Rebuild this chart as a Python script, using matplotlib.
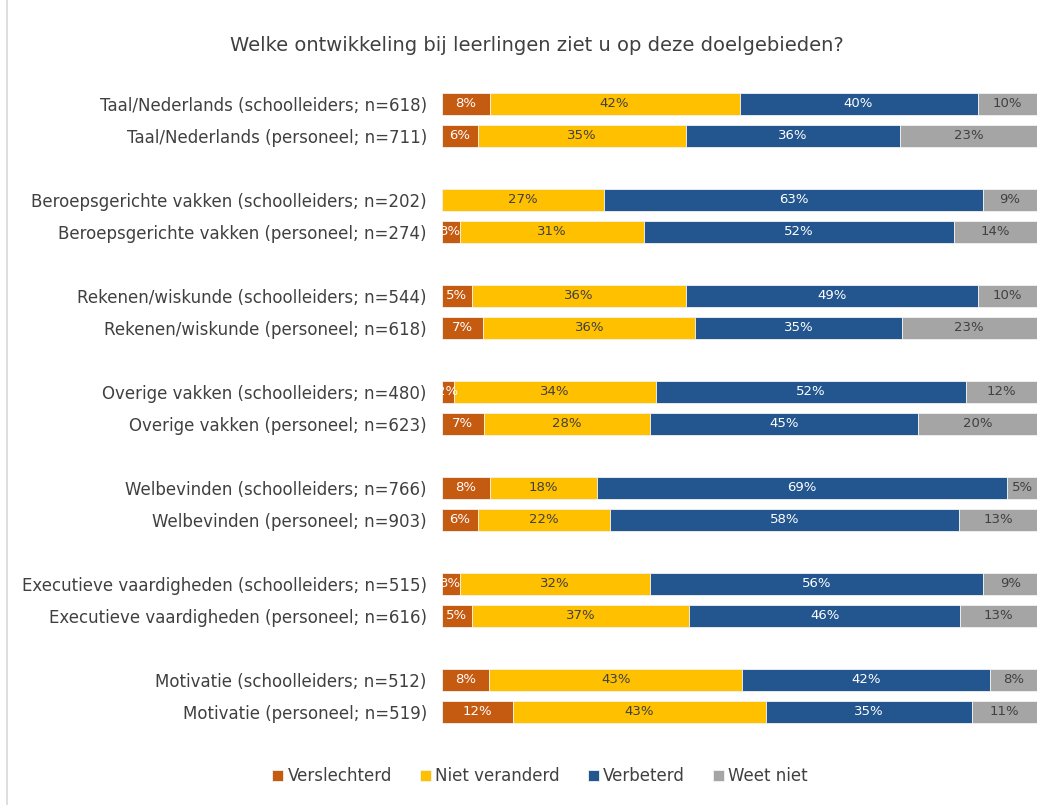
import matplotlib
matplotlib.use("Agg")
import matplotlib.pyplot as plt
from matplotlib.patches import Rectangle
import numpy as np

labels = [
    "Taal/Nederlands (schoolleiders; n=618)",
    "Taal/Nederlands (personeel; n=711)",
    "Beroepsgerichte vakken (schoolleiders; n=202)",
    "Beroepsgerichte vakken (personeel; n=274)",
    "Rekenen/wiskunde (schoolleiders; n=544)",
    "Rekenen/wiskunde (personeel; n=618)",
    "Overige vakken (schoolleiders; n=480)",
    "Overige vakken (personeel; n=623)",
    "Welbevinden (schoolleiders; n=766)",
    "Welbevinden (personeel; n=903)",
    "Executieve vaardigheden (schoolleiders; n=515)",
    "Executieve vaardigheden (personeel; n=616)",
    "Motivatie (schoolleiders; n=512)",
    "Motivatie (personeel; n=519)",
]
verslechterd = [8, 6, 0, 3, 5, 7, 2, 7, 8, 6, 3, 5, 8, 12]
niet_veranderd = [42, 35, 27, 31, 36, 36, 34, 28, 18, 22, 32, 37, 43, 43]
verbeterd = [40, 36, 63, 52, 49, 35, 52, 45, 69, 58, 56, 46, 42, 35]
weet_niet = [10, 23, 9, 14, 10, 23, 12, 20, 5, 13, 9, 13, 8, 11]

series = [
    ("Verslechterd", verslechterd, "#C55A11", "white"),
    ("Niet veranderd", niet_veranderd, "#FFC000", "#404040"),
    ("Verbeterd", verbeterd, "#23568F", "white"),
    ("Weet niet", weet_niet, "#A5A5A5", "#404040"),
]

# rijen per paar, met lege ruimte tussen de doelgebieden
pos = np.array([(i // 2) * 3 + (i % 2) for i in range(len(labels))], dtype=float)
totals = np.sum([s[1] for s in series], axis=0).astype(float)

fig = plt.figure(figsize=(10.51, 8.05), dpi=100)
ax = fig.add_axes([0.4206, 0.0917, 0.5661, 0.8030])

left = np.zeros(len(labels))
handles = []
for name, vals, color, tcolor in series:
    frac = np.array(vals) / totals
    bars = ax.barh(pos, frac, left=left, height=0.69, color=color,
                   edgecolor="#F2F2F2", linewidth=0.6, label=name)
    handles.append(bars)
    for p, l, w, v in zip(pos, left, frac, vals):
        if v > 0:
            ax.text(l + w / 2, p, f"{v}%", ha="center", va="center",
                    fontsize=9.5, color=tcolor)
    left += frac

ax.set_xlim(0, 1)
ax.set_ylim(19.6, -0.6)
ax.set_yticks(pos)
ax.set_yticklabels(labels, fontsize=12, color="#404040")
ax.tick_params(axis="y", length=0, pad=11)
ax.set_xticks([])
for sp in ax.spines.values():
    sp.set_visible(False)

fig.text(0.511, 0.944, "Welke ontwikkeling bij leerlingen ziet u op deze doelgebieden?",
         ha="center", va="center", fontsize=14, color="#404040")

fig.legend(handles=handles, loc="center", bbox_to_anchor=(0.514, 0.036), ncol=4,
           frameon=False, fontsize=12, handlelength=0.65, handleheight=0.65,
           handletextpad=0.25, columnspacing=1.7, labelcolor="#404040")

fig.patches.append(Rectangle((0.007, -0.01), 1.1, 1.1, transform=fig.transFigure,
                             fill=False, edgecolor="#D9D9D9", linewidth=1.2))

fig.savefig("out.png", dpi=100)
